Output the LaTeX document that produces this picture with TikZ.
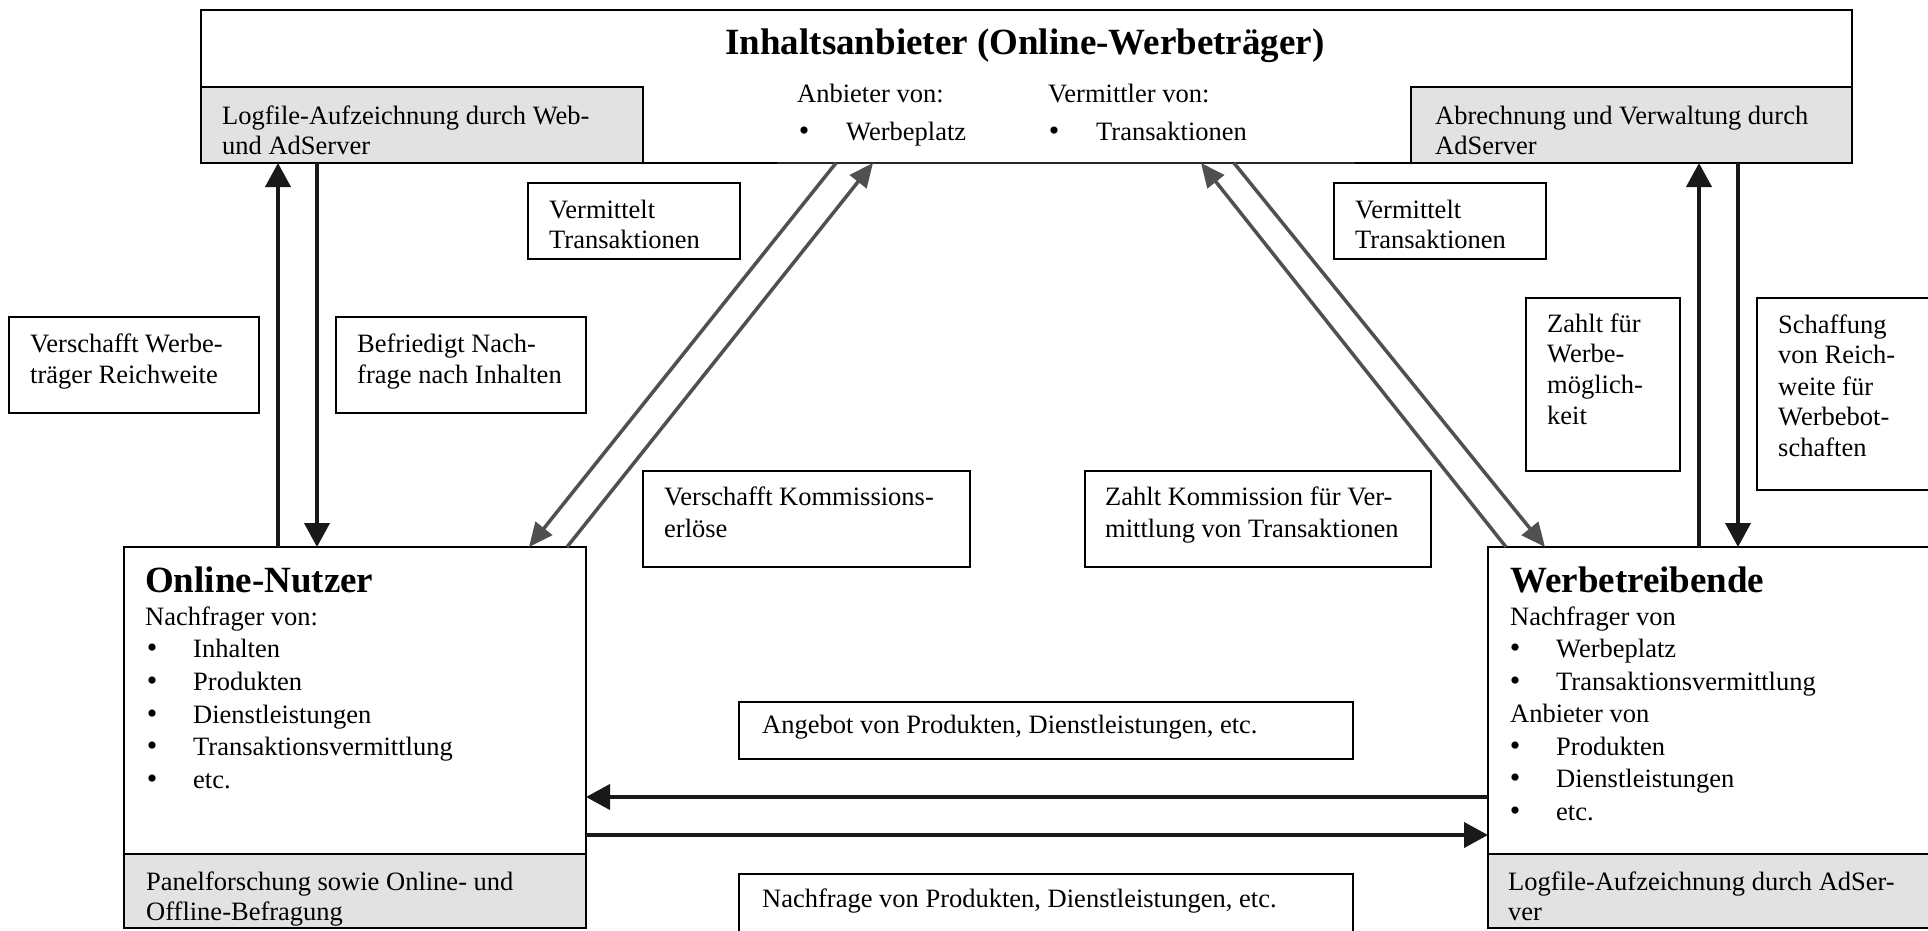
\documentclass[tikz,border=0pt]{standalone}
\usepackage{fontspec}
\setmainfont{Liberation Serif}
\usetikzlibrary{arrows.meta}
\definecolor{greyfill}{RGB}{226,226,226}
\definecolor{diagcol}{RGB}{80,80,80}
\newcommand\bodyf{\fontsize{26.5}{31}\selectfont}
\newcommand\headf{\fontsize{37}{42}\selectfont\bfseries}
\newcommand\bulf{\fontsize{30}{31}\selectfont}
\begin{document}
\begin{tikzpicture}[x=1pt,y=-1pt,
  mainbox/.style={draw=black, line width=2.5pt, anchor=north west, inner sep=0pt, outer sep=0pt},
  greybox/.style={mainbox, fill=greyfill},
  lblbox/.style={draw=black, line width=2pt, anchor=north west, inner sep=0pt, outer sep=0pt, fill=white},
  txt/.style={anchor=base west, inner sep=0pt, font=\bodyf},
  bul/.style={anchor=base, inner sep=0pt, font=\bulf},
  head/.style={anchor=base west, inner sep=0pt, font=\headf},
  blkarrow/.style={draw=black!90, line width=4pt, -{Triangle[length=24pt,width=25pt]}},
  diagarrow/.style={draw=diagcol, line width=3.5pt, -{Triangle[length=24pt,width=21pt]}}
]
\useasboundingbox (0,0) rectangle (1928,930);
\clip (0,0) rectangle (1928,930);
\fill[white] (0,0) rectangle (1928,930);

% ---------- top box ----------
\node[anchor=north west, inner sep=0pt, outer sep=0pt, minimum width=1651pt, minimum height=153pt] (top) at (201,10) {};
\draw[line width=2.5pt] (top.south west) |- (top.north east) -- (top.south east);
\draw[line width=2.5pt] (top.south west) -- ++(576,0);
\draw[line width=1.3pt, black!85] ([xshift=576pt]top.south west) -- ([xshift=-497pt]top.south east);
\draw[line width=2.5pt] ([xshift=-497pt]top.south east) -- (top.south east);
\node[greybox, minimum width=442pt, minimum height=76pt] (topleftgrey) at (201,87) {};
\node[greybox, minimum width=441pt, minimum height=76pt] (toprightgrey) at (1411,87) {};
\node[anchor=base, inner sep=0pt, font=\headf] at (1025,54) {Inhaltsanbieter (Online-Werbeträger)};
\node[txt] at (222,124) {Logfile-Aufzeichnung durch Web-};
\node[txt] at (222,154) {und AdServer};
\node[txt] at (1435,124) {Abrechnung und Verwaltung durch};
\node[txt] at (1435,154) {AdServer};
\node[txt] at (797,102) {Anbieter von:};
\node[bul] at (804,140) {•};
\node[txt] at (846,140) {Werbeplatz};
\node[txt] at (1048,102) {Vermittler von:};
\node[bul] at (1054,140) {•};
\node[txt] at (1096,140) {Transaktionen};

% ---------- Online-Nutzer ----------
\node[mainbox, fill=white, minimum width=462pt, minimum height=381pt] (nutzer) at (124,547) {};
\node[greybox, minimum width=462pt, minimum height=74pt] (nutzergrey) at (124,854) {};
\node[head] at (145,592) {Online-Nutzer};
\node[txt] at (145,625) {Nachfrager von:};
\foreach \y/\t in {657/Inhalten, 690/Produkten, 723/Dienstleistungen, 755/Transaktionsvermittlung, 788/etc.}{
  \node[bul] at (152,\y) {•};
  \node[txt] at (193,\y) {\t};
}
\node[txt] at (146,890) {Panelforschung sowie Online- und};
\node[txt] at (146,920) {Offline-Befragung};

% ---------- Werbetreibende ----------
\node[mainbox, fill=white, minimum width=452pt, minimum height=381pt] (werb) at (1488,547) {};
\node[greybox, minimum width=452pt, minimum height=74pt] (werbgrey) at (1488,854) {};
\node[head] at (1510,592) {Werbetreibende};
\node[txt] at (1510,625) {Nachfrager von};
\node[bul] at (1515,657.5) {•};
\node[txt] at (1556,657.5) {Werbeplatz};
\node[bul] at (1515,690) {•};
\node[txt] at (1556,690) {Transaktionsvermittlung};
\node[txt] at (1510,722.5) {Anbieter von};
\node[bul] at (1515,755) {•};
\node[txt] at (1556,755) {Produkten};
\node[bul] at (1515,787.5) {•};
\node[txt] at (1556,787.5) {Dienstleistungen};
\node[bul] at (1515,820) {•};
\node[txt] at (1556,820) {etc.};
\node[txt] at (1508,890) {Logfile-Aufzeichnung durch AdSer-};
\node[txt] at (1508,920) {ver};

% ---------- label boxes ----------
\node[lblbox, minimum width=250pt, minimum height=96pt] (lreich) at (9,317) {};
\node[txt] at (30,352) {Verschafft Werbe-};
\node[txt] at (30,383) {träger Reichweite};
\node[lblbox, minimum width=250pt, minimum height=96pt] (lbefr) at (336,317) {};
\node[txt] at (357,352) {Befriedigt Nach-};
\node[txt] at (357,383) {frage nach Inhalten};
\node[lblbox, minimum width=212pt, minimum height=76pt] (lvermL) at (528,183) {};
\node[txt] at (549,218) {Vermittelt};
\node[txt] at (549,248) {Transaktionen};
\node[lblbox, minimum width=212pt, minimum height=76pt] (lvermR) at (1334,183) {};
\node[txt] at (1355,218) {Vermittelt};
\node[txt] at (1355,248) {Transaktionen};
\node[lblbox, minimum width=327pt, minimum height=96pt] (lkomm) at (643,471) {};
\node[txt] at (664,505) {Verschafft Kommissions-};
\node[txt] at (664,537) {erlöse};
\node[lblbox, minimum width=346pt, minimum height=96pt] (lzahlk) at (1085,471) {};
\node[txt] at (1105,505) {Zahlt Kommission für Ver-};
\node[txt] at (1105,537) {mittlung von Transaktionen};
\node[lblbox, minimum width=154pt, minimum height=173pt] (lzahlw) at (1526,298) {};
\node[txt] at (1547,332) {Zahlt für};
\node[txt] at (1547,362) {Werbe-};
\node[txt] at (1547,393) {möglich-};
\node[txt] at (1547,424) {keit};
\node[lblbox, minimum width=200pt, minimum height=192pt] (lschaff) at (1757,298) {};
\node[txt] at (1778,333) {Schaffung};
\node[txt] at (1778,363) {von Reich-};
\node[txt] at (1778,395) {weite für};
\node[txt] at (1778,425) {Werbebot-};
\node[txt] at (1778,456) {schaften};
\node[lblbox, minimum width=614pt, minimum height=57pt] (langebot) at (739,702) {};
\node[txt] at (762,733) {Angebot von Produkten, Dienstleistungen, etc.};
\node[lblbox, minimum width=614pt, minimum height=80pt] (lnachfr) at (739,874) {};
\node[txt] at (762,907) {Nachfrage von Produkten, Dienstleistungen, etc.};

% ---------- connectors ----------
\draw[blkarrow] ([xshift=154pt]nutzer.north west) -- ([xshift=77pt]top.south west);
\draw[blkarrow] ([xshift=116pt]top.south west) -- ([xshift=193pt]nutzer.north west);
\draw[blkarrow] ([xshift=211pt]werb.north west) -- ([xshift=-153pt]top.south east);
\draw[blkarrow] ([xshift=-114pt]top.south east) -- ([xshift=250pt]werb.north west);
\draw[diagarrow] ([xshift=635pt]top.south west) -- ([xshift=405pt]nutzer.north west);
\draw[diagarrow] ([xshift=443pt]nutzer.north west) -- ([xshift=672pt]top.south west);
\draw[diagarrow] ([xshift=18pt]werb.north west) -- ([xshift=1000pt]top.south west);
\draw[diagarrow] ([xshift=1033pt]top.south west) -- ([xshift=57pt]werb.north west);
\draw[blkarrow] ([yshift=-250pt]werb.north west) -- ([yshift=-250pt]nutzer.north east);
\draw[blkarrow] ([yshift=-288pt]nutzer.north east) -- ([yshift=-288pt]werb.north west);
\end{tikzpicture}
\end{document}
